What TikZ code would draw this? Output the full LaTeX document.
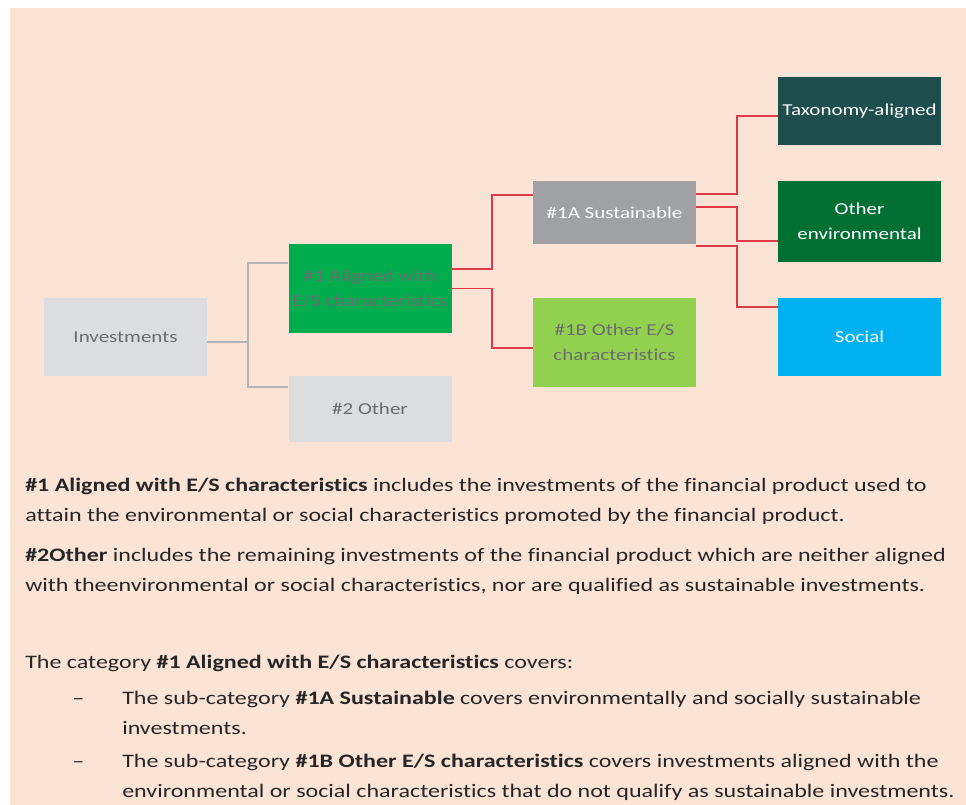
\documentclass[tikz,border=0pt]{standalone}
\usepackage{fontspec}
\setmainfont{Carlito}[FakeStretch=1.26,Ligatures={TeX,NoCommon}]
\definecolor{peach}{RGB}{251,227,214}
\definecolor{boxgrey}{RGB}{220,221,222}
\definecolor{txtgrey}{RGB}{108,108,110}
\definecolor{esgreen}{RGB}{0,173,78}
\definecolor{sustgrey}{RGB}{160,161,164}
\definecolor{litegreen}{RGB}{146,208,80}
\definecolor{taxoteal}{RGB}{30,78,78}
\definecolor{envgreen}{RGB}{0,111,52}
\definecolor{socblue}{RGB}{0,176,240}
\definecolor{linkred}{RGB}{221,57,72}
\definecolor{linkgrey}{RGB}{180,180,180}
\definecolor{bodytxt}{RGB}{38,38,38}
\begin{document}
\begin{tikzpicture}[x=0.75pt,y=-0.75pt,
	box/.style={minimum width=122.25pt,inner sep=0pt,align=center,font=\fontsize{12.5}{18.75}\selectfont},
	redlink/.style={linkred,line width=1.4pt},
	greylink/.style={linkgrey,line width=1.4pt},
	para/.style={anchor=north west,inner sep=0pt,align=left,text=bodytxt,font=\fontsize{14.3}{22.5}\selectfont}]
	\useasboundingbox (0,0) rectangle (966,805);
	\fill[peach] (10,8) rectangle (966,805);
	% boxes of the tree
	\node[box,fill=boxgrey,text=txtgrey,minimum height=58.5pt] (inv) at (125.5,337) {Investments};
	\node[box,fill=esgreen,text=txtgrey,minimum height=66.75pt] (align) at (370,288.5) {\#1 Aligned with\\E/S characteristics};
	\node[box,fill=boxgrey,text=txtgrey,minimum height=49.5pt] (other) at (370,409) {\#2 Other};
	\node[box,fill=sustgrey,text=white,minimum height=47.25pt] (sust) at (614.5,212.5) {\#1A Sustainable};
	\node[box,fill=litegreen,text=txtgrey,minimum height=66.75pt] (othes) at (614.5,342.5) {\#1B Other E/S\\characteristics};
	\node[box,fill=taxoteal,text=white,minimum height=51pt] (taxo) at (859.5,111) {Taxonomy-aligned};
	\node[box,fill=envgreen,text=white,minimum height=60.75pt] (env) at (859.5,221.5) {Other\\environmental};
	\node[box,fill=socblue,text=white,minimum height=58.5pt] (soc) at (859.5,337) {Social};
	% connectors
	\draw[greylink] ([yshift=-3.75pt]inv.east) -- ++(41,0) coordinate (gbus);
	\draw[greylink] ([yshift=19.1pt]align.west) -| (gbus) |- ([yshift=16.5pt]other.west);
	\draw[redlink] ([yshift=14.6pt]align.east) -- ++(40,0) |- ([yshift=13.1pt]sust.west);
	\draw[redlink] (align.east) -- ++(40,0) |- ([yshift=-4.1pt]othes.west);
	\draw[redlink] ([yshift=13.9pt]sust.east) -- ++(41,0) |- ([yshift=-3.75pt]taxo.west);
	\draw[redlink] ([yshift=4.1pt]sust.east) -- ++(41,0) |- ([yshift=-14.6pt]env.west);
	\draw[redlink] ([yshift=-25.1pt]sust.east) -- ++(41,0) |- ([yshift=22.5pt]soc.west);
	% explanation text
	\node[para] (pone) at (25,470) {\strut\textbf{\#1 Aligned with E/S characteristics} includes the investments of the financial product used to\\attain the environmental or social characteristics promoted by the financial product.};
	\node[para] (ptwo) at (25,540) {\strut\textbf{\#2Other} includes the remaining investments of the financial product which are neither aligned\\with theenvironmental or social characteristics, nor are qualified as sustainable investments.};
	\node[para] (pcat) at (25,647) {\strut The category \textbf{\#1 Aligned with E/S characteristics} covers:};
	\node[para] (dasha) at (72,683) {\strut --};
	\node[para] (itema) at (122,683) {\strut The sub-category \textbf{\#1A Sustainable} covers environmentally and socially sustainable\\investments.};
	\node[para] (dashb) at (72,746) {\strut --};
	\node[para] (itemb) at (122,746) {\strut The sub-category \textbf{\#1B Other E/S characteristics} covers investments aligned with the\\environmental or social characteristics that do not qualify as sustainable investments.};
\end{tikzpicture}
\end{document}
